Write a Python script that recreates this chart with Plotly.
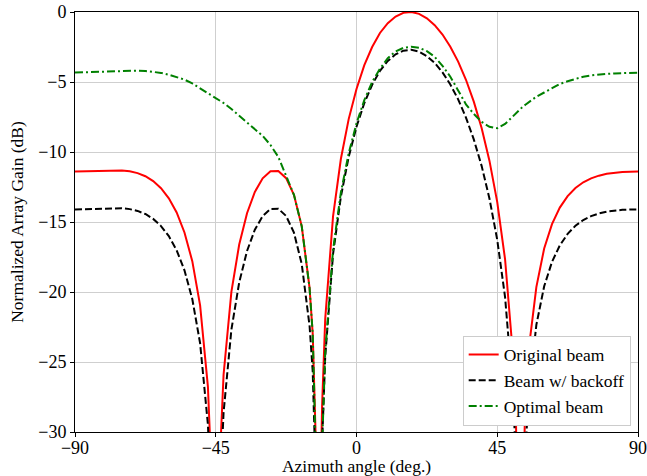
import plotly.graph_objects as go

angles = [-90, -87.5, -85, -82.5, -80, -77.5, -75, -72.5, -70, -67.5, -65, -62.5, -60, -57.5,
          -55, -52.5, -50, -47.5, -46, -45, -44, -42.5, -40, -37.5, -35, -32.5, -30, -27.5,
          -25, -22.5, -20, -17.5, -15, -14, -13, -12.5, -12, -11.5, -11, -10, -7.5, -5, -2.5,
          0, 2.5, 5, 7.5, 10, 12.5, 15, 17.5, 20, 22.5, 25, 27.5, 30, 32.5, 35, 37.5, 40,
          42.5, 45, 47.5, 50, 51, 52, 52.5, 53, 54, 55, 57.5, 60, 62.5, 65, 67.5, 70, 72.5,
          75, 77.5, 80, 82.5, 85, 87.5, 90]

original_beam = [-11.40, -11.39, -11.37, -11.34, -11.32, -11.30, -11.32, -11.38, -11.51, -11.73,
                 -12.08, -12.59, -13.31, -14.32, -15.75, -17.80, -20.96, -26.78, -35.0, -57.0,
                 -33.6, -25.91, -19.99, -16.61, -14.37, -12.85, -11.88, -11.37, -11.35, -11.87,
                 -13.06, -15.31, -19.73, -22.96, -28.73, -34.66, -60.0, -34.2, -28.15, -21.92,
                 -14.6, -10.5, -7.65, -5.5, -3.8, -2.5, -1.5, -0.8, -0.32, -0.06, 0.0, -0.13,
                 -0.45, -0.94, -1.61, -2.48, -3.54, -4.84, -6.40, -8.29, -10.62, -13.58, -17.66,
                 -24.45, -29.45, -40.9, -50.0, -38.0, -27.3, -24.2, -19.65, -16.89, -15.15,
                 -13.97, -13.15, -12.57, -12.16, -11.88, -11.69, -11.56, -11.48, -11.43, -11.41,
                 -11.40]

backoff_beam = [-14.10, -14.09, -14.07, -14.04, -14.02, -14.00, -14.02, -14.08, -14.21, -14.43,
                -14.78, -15.29, -16.01, -17.02, -18.45, -20.50, -23.66, -29.48, -37.7, -59.7,
                -36.3, -28.61, -22.69, -19.31, -17.07, -15.55, -14.58, -14.07, -14.05, -14.57,
                -15.76, -18.01, -22.43, -25.66, -31.43, -37.36, -62.7, -36.9, -30.85, -24.62,
                -17.3, -13.2, -10.35, -8.2, -6.5, -5.2, -4.2, -3.5, -3.02, -2.76, -2.70, -2.83,
                -3.15, -3.64, -4.31, -5.18, -6.24, -7.54, -9.10, -10.99, -13.32, -16.28, -20.36,
                -27.15, -32.15, -43.6, -52.7, -39.4, -31.4, -27.49, -22.35, -19.59, -17.85,
                -16.67, -15.85, -15.27, -14.86, -14.58, -14.39, -14.26, -14.18, -14.13, -14.11,
                -14.10]

optimal_beam = [-4.33, -4.31, -4.28, -4.25, -4.23, -4.21, -4.19, -4.19, -4.19, -4.21,
                -4.26, -4.35, -4.48, -4.63, -4.83, -5.10, -5.45, -5.78, -5.98, -6.12,
                -6.27, -6.50, -6.93, -7.40, -7.88, -8.35, -8.85, -9.50, -10.35, -11.70,
                -13.06, -15.31, -19.73, -22.96, -28.70, -33.0, -40.0, -45.0, -31.0, -24.3,
                -17.0, -12.9, -10.1, -7.95, -6.3, -5.0, -4.05, -3.3, -2.82, -2.56, -2.48, -2.55,
                -2.8, -3.2, -3.85, -4.62, -5.6, -6.6, -7.28, -7.85, -8.2, -8.3, -8.0,
                -7.45, -7.2, -7.0, -6.9, -6.8, -6.62, -6.45, -6.05, -5.75, -5.45,
                -5.14, -4.95, -4.78, -4.62, -4.53, -4.46, -4.42, -4.39, -4.36, -4.34,
                -4.33]

x_ticks = [-90, -45, 0, 45, 90]
y_ticks = [0, -5, -10, -15, -20, -25, -30]

FONT = "Liberation Serif, Times New Roman, serif"

fig = go.Figure()
fig.add_trace(go.Scatter(x=angles, y=original_beam, mode="lines", name="Original beam",
                         line=dict(color="#ff0000", width=2)))
fig.add_trace(go.Scatter(x=angles, y=backoff_beam, mode="lines", name="Beam w/ backoff",
                         line=dict(color="#000000", width=2, dash="7px,3px")))
fig.add_trace(go.Scatter(x=angles, y=optimal_beam, mode="lines", name="Optimal beam",
                         line=dict(color="#008000", width=2, dash="8px,3px,2px,3px")))

axis_common = dict(showline=True, linecolor="black", linewidth=1, mirror=True,
                   ticks="outside", ticklen=4, tickcolor="black",
                   showgrid=True, gridcolor="#cfcfcf", gridwidth=1, zeroline=False,
                   ticklabeloverflow="allow",
                   tickfont=dict(family=FONT, size=18, color="black"))

fig.update_layout(
    width=647, height=476,
    margin=dict(l=75, r=9, t=12, b=44),
    paper_bgcolor="white", plot_bgcolor="white",
    font=dict(family=FONT, size=18, color="black"),
    xaxis=dict(range=[-90, 90], tickvals=x_ticks, automargin=False, ticklabelstandoff=-5,
               title=dict(text="Azimuth angle (deg.)", font=dict(family=FONT, size=17.5), standoff=2),
               **axis_common),
    yaxis=dict(range=[-30, 0], tickvals=y_ticks, automargin=False,
               title=dict(text="Normalized Array Gain (dB)", font=dict(family=FONT, size=17.5), standoff=10),
               **axis_common),
    legend=dict(x=0.987, y=0.015, xanchor="right", yanchor="bottom",
                bgcolor="white", bordercolor="#cccccc", borderwidth=1,
                font=dict(family=FONT, size=17.5, color="black"), tracegroupgap=0),
    showlegend=True,
)

fig.write_html("out.html", config={"displayModeBar": False},
               post_script="document.body.style.margin='0';")
